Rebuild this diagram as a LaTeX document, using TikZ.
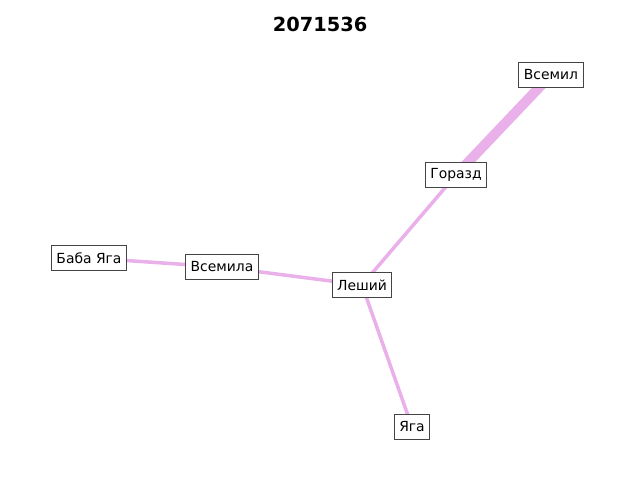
\documentclass[tikz,border=0pt]{standalone}
\usepackage{fontspec}
\setmainfont{DejaVu Sans}
\usepackage{tikz}
\usetikzlibrary{calc}
\usetikzlibrary{positioning}
\usetikzlibrary{backgrounds}

\definecolor{edgeViolet}{RGB}{233,176,233}
\definecolor{boxGray}{RGB}{68,68,68}

\tikzset{
    person/.style={rectangle, draw=boxGray, fill=white, line width=0.9pt, minimum height=25pt, inner xsep=5pt, font=\fontsize{13.9}{16}\selectfont},
    tie/.style={draw=edgeViolet, line width=3.5pt},
    strongTie/.style={draw=edgeViolet, line width=10pt}
}

\begin{document}
\begin{tikzpicture}[x=1pt, y=-1pt]
    \useasboundingbox (0,0) rectangle (640,480);
    \node [font=\fontsize{19.4}{22}\selectfont\bfseries] (title) at (320, 24) {2071536};

    \node [person] (vsemil) at (551, 75) {Всемил};
    \node [person] (gorazd) at (456, 175) {Горазд};
    \node [person] (babaYaga) at (89, 258) {Баба Яга};
    \node [person] (vsemila) at (222, 267) {Всемила};
    \node [person] (leshiy) at (362, 285) {Леший};
    \node [person] (yaga) at (412, 427) {Яга};

    % ties behind the boxes
    \begin{scope}[on background layer]
        \draw [strongTie] (vsemil.center) -- (gorazd.center);
        \draw [tie] (gorazd.center) -- (leshiy.center);
        \draw [tie] (leshiy.center) -- (vsemila.center);
        \draw [tie] (vsemila.center) -- (babaYaga.center);
        \draw [tie] (leshiy.center) -- (yaga.center);
    \end{scope}
\end{tikzpicture}
\end{document}
